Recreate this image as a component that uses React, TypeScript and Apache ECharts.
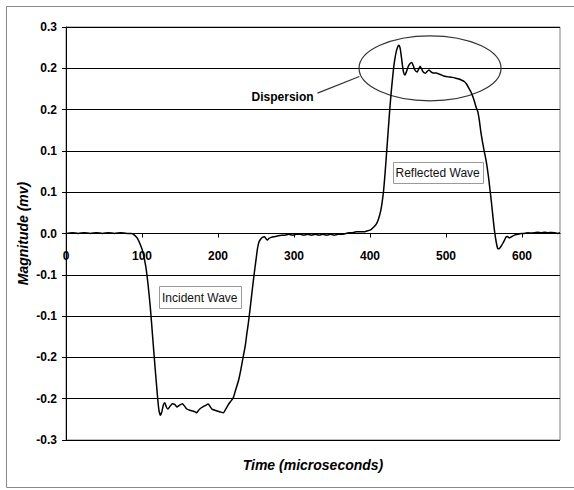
import { useEffect, useRef } from "react";
import * as echarts from "echarts";

// Recorded strain-gauge trace: time in microseconds, magnitude in mV
const timeUs = [
  0, 8, 16, 24, 32, 40, 48, 56, 64, 72, 80, 86,
  90, 94, 98, 101, 105, 108, 111, 114, 117, 120, 122, 124, 126, 128, 130, 132, 134,
  137, 140, 143, 146, 149, 153, 156, 159, 163, 167, 170, 172, 174, 176, 180, 184, 187,
  190, 192, 196, 199, 203, 207, 210, 213, 216, 220, 223, 227, 230, 233, 236, 238, 240,
  242, 244, 246, 248, 250, 252, 254, 256, 258, 261, 263, 265, 267, 269, 273, 278, 283,
  288, 293, 298, 303, 308, 313, 318, 323, 328, 333, 338, 343, 348, 353, 358, 363, 368,
  372, 377, 382, 387, 392, 396, 400, 404, 408, 411, 414, 416, 418, 420, 422, 424, 426,
  428, 431, 433, 435, 437, 438, 439.5, 441, 442.5, 444, 446, 448, 450, 452, 455, 457,
  459, 462, 464, 466, 468, 470, 473, 475, 477.5, 480, 483, 487, 491, 494, 497, 500, 504,
  508, 513, 517, 520, 524, 527, 530, 533, 536, 540, 542, 544, 546, 548, 550, 553, 556,
  558, 560, 562, 564, 566, 568, 570, 572, 575, 577, 579, 581, 583, 586, 590, 594, 599,
  603, 608, 612, 617, 621, 625, 630, 634, 639, 643, 647, 650,
];

const magnitudeMv = [
  0.0, 0.001, 0.0, 0.001, 0.0, 0.001, 0.0, 0.001, 0.0, 0.001, 0.0, 0.0,
  -0.002, -0.006, -0.014, -0.022, -0.04, -0.062, -0.09, -0.125, -0.16, -0.193, -0.212, -0.22, -0.216, -0.208, -0.205, -0.21, -0.2125,
  -0.209, -0.206, -0.207, -0.21, -0.208, -0.206, -0.209, -0.2125, -0.214, -0.215, -0.216, -0.217, -0.2145, -0.2125, -0.21, -0.208, -0.2065,
  -0.21, -0.2125, -0.214, -0.215, -0.216, -0.217, -0.213, -0.208, -0.204, -0.199, -0.19, -0.178, -0.165, -0.15, -0.135, -0.121, -0.108,
  -0.093, -0.077, -0.061, -0.046, -0.032, -0.018, -0.01, -0.007, -0.005, -0.004, -0.006, -0.008, -0.006, -0.005, -0.004, -0.003, -0.002,
  -0.002, -0.001, -0.002, -0.001, -0.001, -0.002, -0.001, -0.002, -0.001, -0.002, -0.001, -0.002, -0.001, -0.002, -0.001, -0.001, 0.0,
  0.001, 0.001, 0.002, 0.002, 0.002, 0.003, 0.004, 0.007, 0.011, 0.017, 0.027, 0.038, 0.053, 0.075, 0.1, 0.125, 0.15,
  0.172, 0.2, 0.213, 0.222, 0.227, 0.228, 0.225, 0.216, 0.205, 0.196, 0.192, 0.196, 0.2016, 0.205, 0.207, 0.203,
  0.198, 0.1955, 0.199, 0.2025, 0.199, 0.1955, 0.194, 0.196, 0.198, 0.196, 0.1943, 0.1943, 0.193, 0.192, 0.1907, 0.19, 0.1895,
  0.189, 0.188, 0.187, 0.1858, 0.184, 0.181, 0.176, 0.171, 0.164, 0.152, 0.147, 0.136, 0.122, 0.111, 0.101, 0.087, 0.068,
  0.052, 0.036, 0.018, 0.002, -0.01, -0.018, -0.0185, -0.016, -0.0115, -0.008, -0.0042, -0.0035, -0.0054, -0.004, -0.002, -0.001, 0.0,
  0.0, 0.001, 0.0005, 0.001, 0.0015, 0.001, 0.0015, 0.001, 0.0012, 0.0008, 0.0, 0.001,
];

// Axis ranges and the printed (one-decimal) labels of the value axis, bottom to top
const xMin = 0;
const xMax = 650;
const xStep = 100;
const yMin = -0.25;
const yMax = 0.25;
const yStep = 0.05;
const yTickLabels = ["-0.3", "-0.2", "-0.2", "-0.1", "-0.1", "0.0", "0.1", "0.1", "0.2", "0.2", "0.3"];

// Callouts anchored in data coordinates
const dispersionRing = { x: 479, y: 0.2 };
const dispersionLabel = { text: "Dispersion", x: 285, y: 0.165 };
const dispersionPointer = { from: [331, 0.17], to: [386, 0.19] };
const incidentLabel = { text: "Incident Wave", x: 176, y: -0.077 };
const reflectedLabel = { text: "Reflected Wave", x: 489, y: 0.074 };

const FONT = '"Liberation Sans", Arial, Helvetica, sans-serif';

const GRID = { left: 66, right: 14, top: 27, bottom: 50 };
const HEIGHT = 490;

export default function App() {
  const ref = useRef<HTMLDivElement>(null);

  useEffect(() => {
    if (!ref.current) return;
    const chart = echarts.init(ref.current, null, { renderer: "svg" });

    // The time axis runs along the zero line of the magnitude axis
    const gridHeight = HEIGHT - GRID.top - GRID.bottom;
    const zeroLift = ((0 - yMin) / (yMax - yMin)) * gridHeight;

    chart.setOption({
      animation: false,
      backgroundColor: "#ffffff",
      grid: {
        ...GRID,
        show: true,
        borderColor: "#808080",
        borderWidth: 1,
        backgroundColor: "transparent",
      },
      xAxis: {
        type: "value",
        position: "bottom",
        offset: -zeroLift,
        min: xMin,
        max: xMax,
        interval: xStep,
        axisLine: { show: true, onZero: false, lineStyle: { color: "#000", width: 1 } },
        axisTick: { show: true, length: 4, lineStyle: { color: "#000" } },
        axisLabel: {
          margin: 16,
          fontSize: 12,
          fontWeight: "bold",
          color: "#000",
          fontFamily: FONT,
          showMaxLabel: false,
        },
        splitLine: { show: false },
      },
      yAxis: {
        type: "value",
        min: yMin,
        max: yMax,
        interval: yStep,
        name: "Magnitude (mv)",
        nameLocation: "middle",
        nameGap: 36,
        nameMoveOverlap: false,
        nameTextStyle: {
          fontSize: 14,
          fontWeight: "bold",
          fontStyle: "italic",
          color: "#000",
          fontFamily: FONT,
        },
        axisLine: { show: true, onZero: false, lineStyle: { color: "#000", width: 1 } },
        axisTick: { show: true, length: 4, lineStyle: { color: "#000" } },
        axisLabel: {
          margin: 9,
          fontSize: 12,
          fontWeight: "bold",
          color: "#000",
          fontFamily: FONT,
          formatter: (v: number) => yTickLabels[Math.round((v - yMin) / yStep)] ?? "",
        },
        splitLine: { show: true, lineStyle: { color: "#000", width: 1 } },
      },
      series: [
        {
          type: "line",
          data: timeUs.map((t, i) => [t, magnitudeMv[i]]),
          showSymbol: false,
          symbol: "none",
          smooth: 0.2,
          lineStyle: { color: "#000", width: 1.5 },
        },
      ],
    });

    const px = (x: number, y: number) =>
      chart.convertToPixel({ gridIndex: 0 }, [x, y]) as number[];

    const ring = px(dispersionRing.x, dispersionRing.y);
    const dl = px(dispersionLabel.x, dispersionLabel.y);
    const p0 = px(dispersionPointer.from[0], dispersionPointer.from[1]);
    const p1 = px(dispersionPointer.to[0], dispersionPointer.to[1]);
    const il = px(incidentLabel.x, incidentLabel.y);
    const rl = px(reflectedLabel.x, reflectedLabel.y);
    const gridLeft = px(xMin, 0)[0];
    const gridRight = px(xMax, 0)[0];

    const boxedLabel = (c: number[], text: string, w: number, h: number) => ({
      type: "group",
      children: [
        {
          type: "rect",
          shape: { x: Math.round(c[0] - w / 2) + 0.5, y: Math.round(c[1] - h / 2) + 0.5, width: w, height: h },
          style: { fill: "#fff", stroke: "#9a9a9a", lineWidth: 1 },
        },
        {
          type: "text",
          style: {
            text,
            x: c[0],
            y: c[1] + 0.5,
            align: "center",
            verticalAlign: "middle",
            fontSize: 12,
            fontFamily: FONT,
            fill: "#111",
          },
        },
      ],
    });

    chart.setOption({
      graphic: [
        {
          type: "rect",
          silent: true,
          shape: { x: 6.5, y: 6.5, width: 620, height: 481 },
          style: { fill: "none", stroke: "#8a8a8a", lineWidth: 1 },
        },
        {
          type: "ellipse",
          shape: { cx: ring[0], cy: ring[1], rx: 71, ry: 32.5 },
          style: { fill: "none", stroke: "#333", lineWidth: 1.2 },
        },
        {
          type: "line",
          shape: { x1: p0[0], y1: p0[1], x2: p1[0], y2: p1[1] },
          style: { stroke: "#333", lineWidth: 1.2 },
        },
        {
          type: "text",
          style: {
            text: dispersionLabel.text,
            x: dl[0],
            y: dl[1],
            align: "center",
            verticalAlign: "middle",
            fontSize: 12,
            fontWeight: "bold",
            fontFamily: FONT,
            fill: "#000",
          },
        },
        boxedLabel(il, incidentLabel.text, 82, 22),
        boxedLabel(rl, reflectedLabel.text, 90, 21),
        {
          type: "text",
          style: {
            text: "Time (microseconds)",
            x: (gridLeft + gridRight) / 2,
            y: 465,
            align: "center",
            verticalAlign: "middle",
            fontSize: 14,
            fontWeight: "bold",
            fontStyle: "italic",
            fontFamily: FONT,
            fill: "#000",
          },
        },
      ],
    });

    return () => chart.dispose();
  }, []);

  return (
    <div
      ref={ref}
      style={{ position: "fixed", left: 0, top: 0, width: 574, height: HEIGHT }}
    />
  );
}
